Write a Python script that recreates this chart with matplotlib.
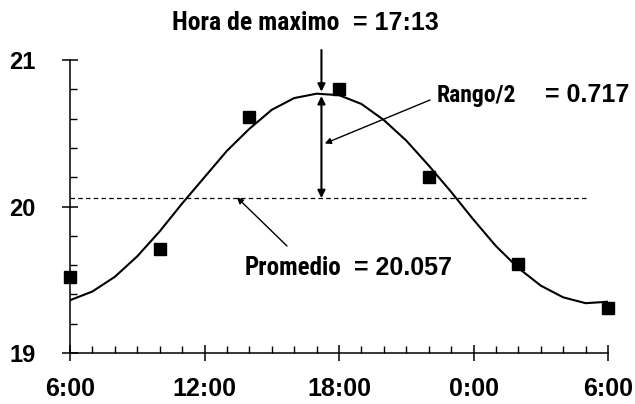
import matplotlib
matplotlib.use("Agg")
import matplotlib.pyplot as plt
from matplotlib import font_manager
from matplotlib.ticker import FixedLocator, MultipleLocator

# ---------------- data ----------------
obs_hours = [6, 10, 14, 18, 22, 26, 30]
obs_temp = [19.52, 19.71, 20.61, 20.80, 20.20, 19.61, 19.31]

curve_hours = list(range(6, 31))
curve_temp = [19.36, 19.42, 19.52, 19.66, 19.83, 20.02, 20.20, 20.38, 20.53,
              20.66, 20.74, 20.77, 20.76, 20.70, 20.59, 20.45, 20.28, 20.10,
              19.91, 19.73, 19.58, 19.46, 19.38, 19.34, 19.35]

mean_value = 20.057
half_range = 0.717
peak_hour = 17 + 13 / 60.0
mean_line_end = 29.06

xtick_pos = [6, 12, 18, 24, 30]
xtick_labels = ["6:00", "12:00", "18:00", "0:00", "6:00"]
ytick_pos = [19, 20, 21]
ytick_labels = ["19", "20", "21"]

# ---------------- fonts ----------------
def pick(fams):
    for f in fams:
        try:
            font_manager.findfont(font_manager.FontProperties(family=f),
                                  fallback_to_default=False)
            return f
        except Exception:
            pass
    return None

WIDE = pick(["Liberation Sans", "Arial", "DejaVu Sans"]) or "DejaVu Sans"
NARROW = pick(["Liberation Sans Narrow", "Arial Narrow", "Roboto Condensed"])
if NARROW is None:
    NARROW, SZ = WIDE, {"hora": 15.4, "rango": 15.4, "prom": 15.4}
elif NARROW == "Roboto Condensed":
    SZ = {"hora": 18.5, "rango": 17, "prom": 18}
else:
    SZ = {"hora": 17, "rango": 17, "prom": 17}

W, H = 635, 404
fig = plt.figure(figsize=(W / 100, H / 100), dpi=100)
ax = fig.add_axes([70 / W, 1 - 353 / H, (608 - 70) / W, (353 - 60) / H])
ax.set_xlim(6, 30)
ax.set_ylim(19, 21)

# curve and points
ax.plot(curve_hours, curve_temp, color="black", lw=1.5, zorder=3)
ax.plot(obs_hours, obs_temp, ls="none", marker="s", ms=8.5, color="black",
        zorder=4, clip_on=False)

# mean dashed line
ax.plot([6, mean_line_end], [mean_value, mean_value], color="black", lw=0.9,
        dashes=(3.6, 2.6), zorder=2)

# spines / ticks
for s in ["top", "right"]:
    ax.spines[s].set_visible(False)
for s in ["left", "bottom"]:
    ax.spines[s].set_linewidth(1.1)

ax.xaxis.set_major_locator(FixedLocator(xtick_pos))
ax.set_xticklabels(xtick_labels)
ax.xaxis.set_minor_locator(MultipleLocator(1))
ax.yaxis.set_major_locator(FixedLocator(ytick_pos))
ax.set_yticklabels(ytick_labels)
ax.yaxis.set_minor_locator(MultipleLocator(0.2))

ax.tick_params(axis="both", which="major", direction="inout", length=11,
               width=1.1, colors="black")
ax.tick_params(axis="both", which="minor", direction="in", length=4.8,
               width=1.0)
ax.tick_params(axis="x", which="major", pad=12)
ax.tick_params(axis="y", which="major", pad=19)
for lab in ax.get_xticklabels():
    lab.set_fontfamily(WIDE)
    lab.set_fontweight("bold")
    lab.set_fontsize(18)
for lab in ax.get_yticklabels():
    lab.set_fontfamily(WIDE)
    lab.set_fontweight("bold")
    lab.set_fontsize(17)

# ---------------- arrows ----------------
peak_value = mean_value + half_range
top_y = 21 + (60 - 50) / 146.5

ax.annotate("", xy=(peak_hour, peak_value + 0.01), xytext=(peak_hour, top_y),
            arrowprops=dict(arrowstyle="-|>", mutation_scale=11, lw=1.5,
                            color="black", shrinkA=0, shrinkB=0),
            annotation_clip=False)
ax.annotate("", xy=(peak_hour, peak_value - 0.02), xytext=(peak_hour, mean_value),
            arrowprops=dict(arrowstyle="<|-|>", mutation_scale=11, lw=1.5,
                            color="black", shrinkA=0, shrinkB=0),
            annotation_clip=False)

# Rango/2 pointer
ax.annotate("", xy=(peak_hour + 0.15, 20.43), xytext=(430, H - 100),
            textcoords="figure pixels",
            arrowprops=dict(arrowstyle="-|>", mutation_scale=9, lw=1.0,
                            color="black", shrinkA=0, shrinkB=0))
# Promedio pointer
ax.annotate("", xy=(13.45, mean_value + 0.005), xytext=(287, H - 246),
            textcoords="figure pixels",
            arrowprops=dict(arrowstyle="-|>", mutation_scale=9, lw=1.0,
                            color="black", shrinkA=0, shrinkB=0))

# ---------------- texts ----------------
def ftxt(x, y, s, fam, size):
    fig.text(x / W, 1 - y / H, s, family=fam, fontweight="bold",
             fontsize=size, ha="left", va="baseline", color="black")

ftxt(172, 30, "Hora de maximo", NARROW, SZ["hora"])
ftxt(353, 30, "= 17:13", WIDE, 18)
ftxt(437, 102, "Rango/2", NARROW, SZ["rango"])
ftxt(545, 102, "= 0.717", WIDE, 18)
ftxt(245, 275, "Promedio", NARROW, SZ["prom"])
ftxt(354, 275, "= 20.057", WIDE, 18)

fig.savefig("out.png", dpi=100, facecolor="white")
